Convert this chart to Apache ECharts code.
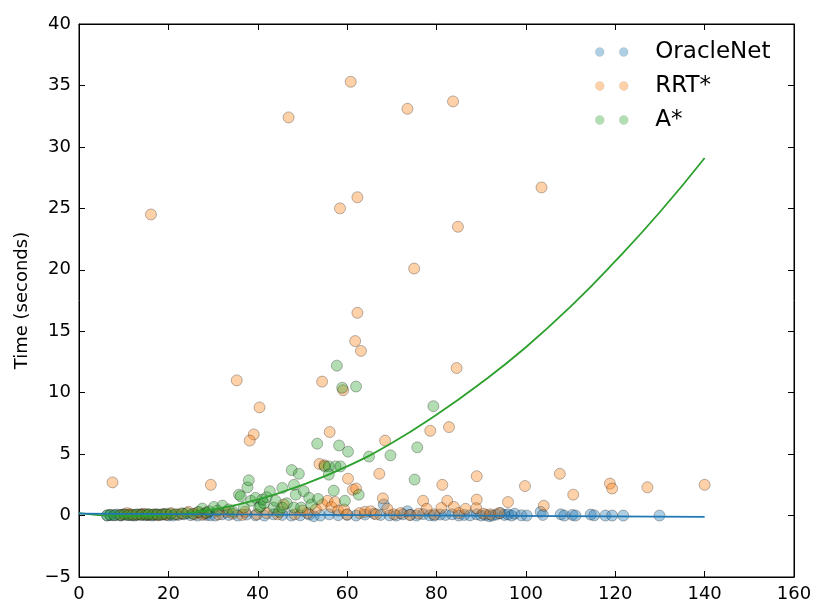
<!DOCTYPE html>
<html>
<head>
<meta charset="utf-8">
<script src="https://cdn.jsdelivr.net/npm/echarts@6/dist/echarts.min.js"></script>
<style>
  html, body { margin: 0; padding: 0; background: #fff; }
  #myChart { width: 815px; height: 606px; }
</style>
</head>
<body>
<div id="myChart"></div>
<script>
// axis ticks
var xTicks = [0, 20, 40, 60, 80, 100, 120, 140, 160];
var yTicks = [-5, 0, 5, 10, 15, 20, 25, 30, 35, 40];

// OracleNet
var oracleX = [6.3, 7.0, 7.8, 8.5, 9.3, 10.0, 10.8, 11.6, 12.4, 13.2, 14.0, 14.8, 15.6, 16.4, 17.2, 18.0, 19.0, 20.0, 21.0, 22.2,
  23.5, 25.0, 26.5, 27.8, 28.6, 29.4, 30.5, 32.0, 33.5, 35.5, 37.5, 39.5, 41.5, 43.5, 45.5, 47.5, 49.5, 51.5, 52.5, 54.0,
  56.0, 58.0, 60.0, 62.0, 64.0, 66.0, 67.5, 68.2, 69.5, 71.0, 72.5, 73.5, 74.2, 75.5, 77.0, 78.5, 79.5, 80.8, 82.0, 83.5,
  85.0, 86.2, 87.5, 89.0, 90.0, 91.0, 91.8, 92.5, 93.4, 94.3, 95.2, 96.0, 96.8, 97.5, 99.0, 100.2, 103.3, 103.8, 107.8, 108.6,
  110.4, 111.1, 114.5, 115.3, 117.8, 119.3, 121.8, 129.9];
var oracleY = [0.0, 0.05, 0.02, 0.08, 0.0, 0.1, 0.05, 0.03, 0.0, 0.06, 0.1, 0.02, 0.05, 0.0, 0.08, 0.04, 0.1, 0.02, 0.0, 0.05,
  0.1, 0.03, 0.0, 0.12, 0.05, 0.02, 0.0, 0.1, 0.05, 0.0, 0.08, 0.02, 0.0, 0.1, 0.05, 0.0, 0.02, 0.08, -0.05, 0.0,
  0.1, 0.03, 0.05, 0.0, 0.08, 0.15, 0.05, 0.9, 0.02, 0.0, 0.1, 0.35, 0.05, 0.0, 0.12, 0.02, 0.0, 0.08, 0.05, 0.1,
  0.0, 0.05, 0.02, 0.1, 0.0, 0.05, -0.05, 0.0, 0.08, 0.2, 0.05, 0.1, 0.0, 0.15, 0.02, 0.0, 0.3, 0.05, 0.1, 0.0,
  0.05, 0.0, 0.08, 0.02, 0.0, 0.0, 0.0, 0.0];

// RRT*
var rrtX = [60.8, 46.9, 73.5, 83.7, 16.1, 58.4, 62.3, 103.5, 84.8, 75.0, 62.3, 61.8, 63.1, 84.5, 35.3, 54.4, 59.1, 40.4, 39.1, 38.2,
  56.1, 68.5, 78.6, 82.8, 53.8, 54.9, 67.2, 107.6, 89.0, 7.5, 29.5, 60.2, 61.3, 62.0, 81.3, 99.8, 118.8, 119.3, 127.2, 140.0,
  110.6, 96.0, 104.0, 68.0, 77.0, 82.4, 89.0,
  9.5, 10.8, 11.5, 12.6, 13.8, 14.5, 15.5, 16.8, 17.6, 18.8, 19.5, 20.6, 22.0, 23.2, 24.5, 25.8, 26.5, 27.6, 28.4,
  31.2, 33.0, 34.4, 36.5, 37.2, 39.8, 42.0, 44.5, 45.8, 48.3, 50.0, 51.2, 53.0, 54.5, 55.6, 56.5, 57.3, 58.0, 59.3, 60.0,
  62.8, 64.0, 65.3, 66.5, 69.0, 70.5, 72.0, 74.0, 76.0, 77.8, 79.5, 81.1, 83.9, 85.0, 86.5, 88.9, 90.5, 92.0, 94.0];
var rrtY = [35.3, 32.4, 33.1, 33.7, 24.5, 25.0, 25.9, 26.7, 23.5, 20.1, 16.5, 14.2, 13.4, 12.0, 11.0, 10.9, 10.2, 8.8, 6.6, 6.1,
  6.8, 6.1, 6.9, 7.2, 4.2, 4.1, 3.4, 3.4, 3.2, 2.7, 2.5, 3.0, 2.1, 2.2, 2.5, 2.4, 2.6, 2.2, 2.3, 2.5,
  1.7, 1.1, 0.8, 1.4, 1.2, 1.2, 1.3,
  0.05, 0.2, 0.1, 0.05, 0.08, 0.15, 0.05, 0.1, 0.02, 0.12, 0.05, 0.2, 0.1, 0.15, 0.3, 0.1, 0.25, 0.05, 0.2,
  0.1, 0.3, 0.15, 0.05, 0.3, 0.1, 0.2, 0.1, 0.9, 0.1, 0.4, 0.2, 0.5, 0.9, 1.2, 0.7, 1.1, 0.4, 0.5, 0.1,
  0.2, 0.3, 0.35, 0.1, 0.55, 0.1, 0.2, 0.05, 0.15, 0.55, 0.1, 0.62, 0.7, 0.2, 0.55, 0.6, 0.15, 0.1, 0.2];

// A*
var astarX = [6.3, 7.0, 8.0, 9.2, 10.2, 11.0, 12.0, 13.0, 14.0, 15.0, 15.6, 16.5, 17.5, 18.5, 19.5, 20.5, 21.5, 23.0, 24.2, 25.5,
  26.8, 27.6, 28.5, 29.1, 30.2, 31.0, 32.1, 33.5, 34.5,
  35.8, 36.2, 36.9, 37.7, 38.0, 38.5, 39.5, 40.3, 40.6, 41.0, 41.4, 42.0, 42.7, 43.6, 44.0, 44.8, 45.5, 45.5, 46.5, 47.6,
  48.1, 48.1, 48.5, 49.2, 49.7, 50.3, 51.5, 52.0, 53.3, 53.5, 55.0, 55.9, 55.9, 57.0, 57.4, 57.7, 58.2, 58.5, 58.9, 59.5,
  60.2, 62.0, 62.6, 64.9, 69.7, 75.1, 75.7, 79.3];
var astarY = [0.02, 0.05, 0.03, 0.05, 0.08, 0.04, 0.06, 0.1, 0.05, 0.08, 0.12, 0.06, 0.1, 0.07, 0.15, 0.12, 0.1, 0.18, 0.2, 0.15,
  0.3, 0.57, 0.25, 0.35, 0.7, 0.4, 0.81, 0.5, 0.3,
  1.7, 1.57, 0.65, 2.3, 2.87, 1.2, 1.44, 0.65, 0.76, 1.3, 1.0, 1.5, 1.98, 0.65, 1.2, 0.3, 2.25, 0.65, 1.0, 3.7,
  2.5, 0.65, 1.7, 3.4, 0.65, 1.98, 1.44, 0.9, 5.85, 1.35, 4.0, 4.0, 3.33, 2.03, 4.0, 12.2, 5.7, 4.0, 10.4, 1.2,
  5.2, 10.5, 1.7, 4.8, 4.9, 2.93, 5.55, 8.9];

// fitted curves
var fitAX = [0, 10, 20, 30, 40, 50, 60, 70, 80, 90, 100, 110, 120, 130, 140];
var fitAY = [0.2, -0.05, 0.05, 0.5, 1.3, 2.5, 4.0, 5.9, 8.2, 10.8, 13.7, 17.0, 20.7, 24.7, 29.1];
var fitOX = [0, 140];
var fitOY = [0.15, -0.1];

function zip(xs, ys) {
  return xs.map(function (x, i) { return [x, ys[i]]; });
}

var font = "DejaVu Sans";
var minus = function (v) { return String(v).replace('-', '\u2212'); };

var tickIn = { show: true, inside: true, length: 6, lineStyle: { color: '#000' } };
var line = { show: true, onZero: false, lineStyle: { color: '#000' } };

function scatter(name, xs, ys, rgb) {
  return {
    name: name,
    type: 'scatter',
    symbolSize: 11,
    data: zip(xs, ys),
    itemStyle: {
      color: 'rgba(' + rgb + ',0.45)',
      borderColor: 'rgba(0,0,0,0.35)',
      borderWidth: 1
    },
    emphasis: { disabled: true }
  };
}

var option = {
  animation: false,
  backgroundColor: '#fff',
  grid: {
    left: 79, right: 21, top: 24, bottom: 29,
    show: true, borderColor: '#000', borderWidth: 1
  },
  legend: {
    data: ['OracleNet', 'RRT*', 'A*'],
    orient: 'vertical',
    left: 590, top: 34,
    itemWidth: 33, itemHeight: 9, itemGap: 8,
    icon: 'path://M0,4.5a4.5,4.5 0 1,0 9,0a4.5,4.5 0 1,0 -9,0M24,4.5a4.5,4.5 0 1,0 9,0a4.5,4.5 0 1,0 -9,0',
    itemStyle: { borderColor: 'rgba(0,0,0,0.15)', borderWidth: 0.5 },
    textStyle: { fontFamily: font, fontSize: 23, color: '#000', padding: [0, 0, 0, 22], lineHeight: 26 }
  },
  xAxis: [{
    type: 'value', min: 0, max: 160, interval: 20,
    axisLine: line,
    axisTick: tickIn,
    splitLine: { show: false },
    axisLabel: { fontFamily: font, fontSize: 18, color: '#000', margin: 8 }
  }, {
    type: 'value', min: 0, max: 160, interval: 20, position: 'top',
    axisLine: line,
    axisTick: tickIn,
    splitLine: { show: false },
    axisLabel: { show: false }
  }],
  yAxis: [{
    type: 'value', min: -5, max: 40, interval: 5,
    name: 'Time (seconds)', nameLocation: 'middle', nameGap: 48,
    nameTextStyle: { fontFamily: font, fontSize: 18, color: '#000' },
    axisLine: line,
    axisTick: tickIn,
    splitLine: { show: false },
    axisLabel: { fontFamily: font, fontSize: 18, color: '#000', margin: 8, formatter: minus }
  }, {
    type: 'value', min: -5, max: 40, interval: 5, position: 'right',
    axisLine: line,
    axisTick: tickIn,
    splitLine: { show: false },
    axisLabel: { show: false }
  }],
  series: [
    scatter('OracleNet', oracleX, oracleY, '31,119,180'),
    scatter('RRT*', rrtX, rrtY, '255,127,14'),
    scatter('A*', astarX, astarY, '44,160,44'),
    {
      name: 'A* fit', type: 'line', smooth: true, symbol: 'none',
      data: zip(fitAX, fitAY),
      lineStyle: { color: '#2ca02c', width: 1.8 },
      z: 3
    },
    {
      name: 'OracleNet fit', type: 'line', symbol: 'none',
      data: zip(fitOX, fitOY),
      lineStyle: { color: '#1f77b4', width: 1.8 },
      z: 3
    }
  ]
};

var chartDom = document.getElementById('myChart');
var myChart = echarts.init(chartDom);
myChart.setOption(option);
</script>
</body>
</html>
